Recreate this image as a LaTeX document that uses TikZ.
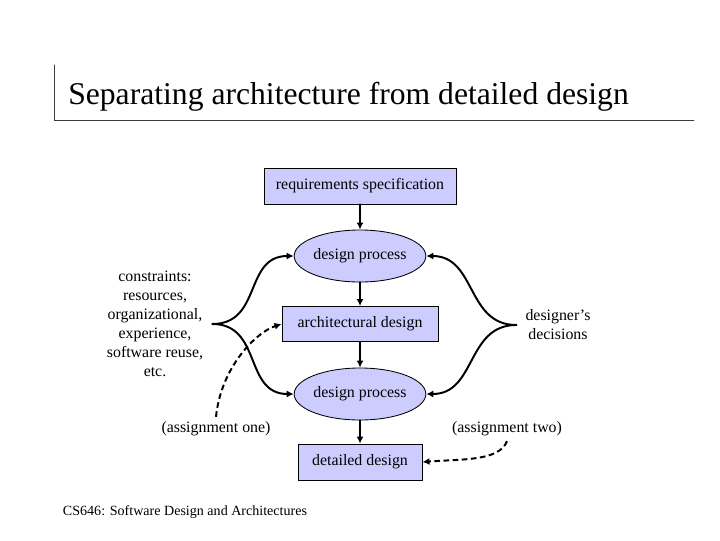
\documentclass[tikz,border=0pt]{standalone}
\usepackage{fontspec}
\setmainfont{Liberation Serif}
\usepackage{tikz}
\usetikzlibrary{arrows.meta,shapes.geometric}
\definecolor{slidelav}{RGB}{204,204,255}
\definecolor{slidegray}{RGB}{60,60,60}

\begin{document}
\begin{tikzpicture}[x=0.025cm, y=-0.025cm, line cap=round,
    font=\fontsize{11.3}{13.5}\selectfont,
    stepbox/.style={draw=black, line width=0.6pt, fill=slidelav, minimum height=0.9cm, inner sep=2pt},
    procell/.style={ellipse, draw=black, line width=0.6pt, fill=slidelav, minimum width=3.15cm, minimum height=1.3cm, inner sep=0pt},
    flow/.style={line width=1.4pt, -{Latex[length=5pt,width=5pt]}},
    assign/.style={line width=1.4pt, line cap=butt, dash pattern=on 4pt off 2.5pt, -{Latex[length=5pt,width=5pt]}}]
  \useasboundingbox (0,0) rectangle (720,540); % 720x540 slide
  % title and its rule
  \draw[slidegray, line width=0.6pt] (54,65) -- (54,120) -- (694,120);
  \node[anchor=base west, inner sep=0pt, font=\fontsize{22.5}{27}\selectfont] (title) at (68,104)
    {Separating architecture from detailed design};

  % main flow
  \node[stepbox, minimum width=4.8cm] (reqspec) at (360,186) {requirements specification};
  \node[procell] (dproc1) at (360,256) {design process};
  \node[stepbox, minimum width=3.9cm, minimum height=0.875cm] (archdes) at (360,324) {architectural design};
  \node[procell] (dproc2) at (360,394) {design process};
  \node[stepbox, minimum width=3.1cm] (detdes) at (360,462) {detailed design};

  % side texts
  \node[align=center] (constr) at (155,324)
    {constraints:\\resources,\\organizational,\\experience,\\software reuse,\\etc.};
  \node[align=center] (decis) at (558,325) {designer’s\\decisions};
  \node (asgone) at (216,429) {(assignment one)};
  \node (asgtwo) at (507,429) {(assignment two)};
  \node[anchor=west, font=\fontsize{10}{12}\selectfont] (footer) at (58,512)
    {CS646: Software Design and Architectures};

  \draw[flow] (reqspec) -- (dproc1);
  \draw[flow] (dproc1) -- (archdes);
  \draw[flow] (archdes) -- (dproc2);
  \draw[flow] (dproc2) -- (detdes);

  \draw[flow] ([xshift=3pt]constr.east) .. controls +(50,0) and +(-50,0) .. (dproc1.west);
  \draw[flow] ([xshift=3pt]constr.east) .. controls +(50,0) and +(-50,0) .. (dproc2.west);
  \draw[flow] ([xshift=-3pt]decis.west) .. controls +(-50,0) and +(50,0) .. (dproc1.east);
  \draw[flow] ([xshift=-3pt]decis.west) .. controls +(-50,0) and +(50,0) .. (dproc2.east);

  \draw[assign] (asgone.north) .. controls +(5,-50) and +(-25,8) .. (archdes.west);
  \draw[assign] (asgtwo.south) .. controls +(-8,20) and +(40,-3) .. (detdes.east);
\end{tikzpicture}
\end{document}
